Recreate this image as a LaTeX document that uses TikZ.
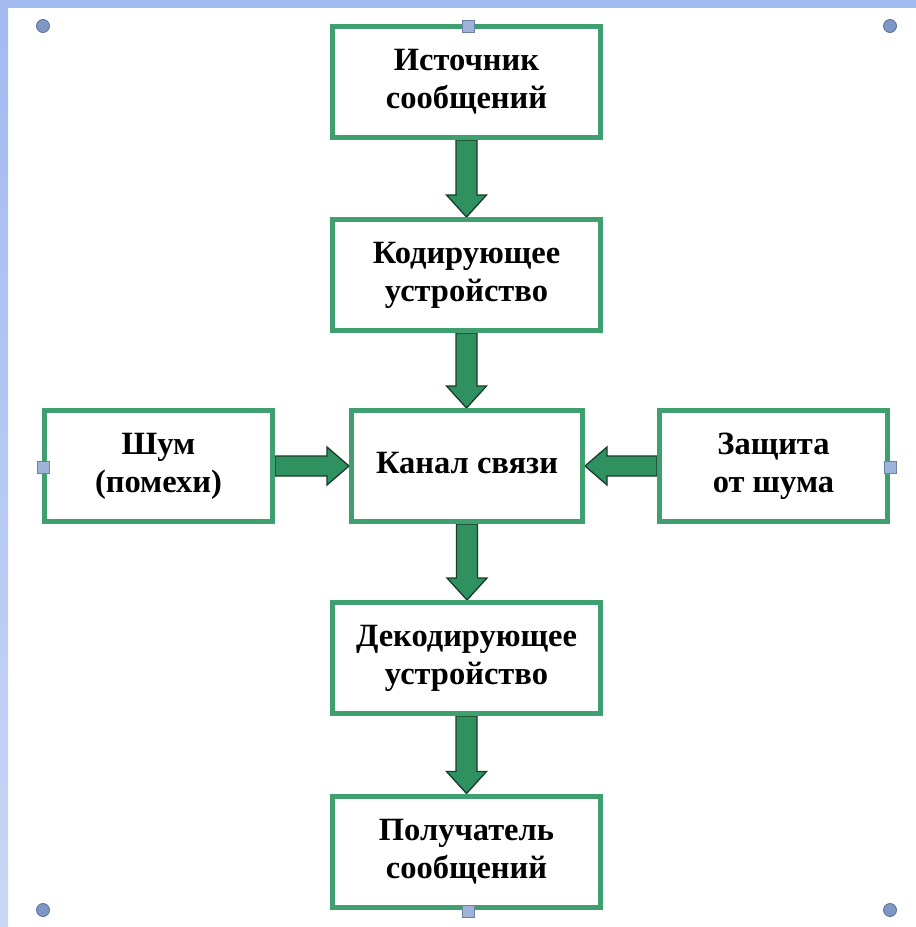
\documentclass[tikz,border=0pt]{standalone}
\usepackage{fontspec}
\setmainfont{Liberation Serif}
\usetikzlibrary{calc}
\definecolor{boxgreen}{HTML}{3F9F6F}
\definecolor{arrgreen}{HTML}{2F9160}
\definecolor{arrdark}{HTML}{1B3B2A}
\definecolor{frameblue}{HTML}{A2BAF0}
\definecolor{framelight}{HTML}{C9D7F5}
\definecolor{hcirc}{HTML}{7E97C4}
\definecolor{hcircd}{HTML}{5A6E96}
\definecolor{hsq}{HTML}{9DB4D8}
\definecolor{hsqd}{HTML}{6A82A8}
\newcommand\boxtxt[1]{\raisebox{8pt}{\begin{tabular}{@{}c@{}}#1\end{tabular}}}
\newcommand\BlkDown[2]{%
  \draw[blk] let \p1=(#1.south), \p2=(#2.north) in
    (\x1-10.5pt,\y1) -- (\x1+10.5pt,\y1) -- (\x1+10.5pt,\y2+22pt) -- (\x1+20pt,\y2+22pt)
    -- (\x1,\y2) -- (\x1-20pt,\y2+22pt) -- (\x1-10.5pt,\y2+22pt) -- cycle;}
\newcommand\BlkRight[2]{%
  \draw[blk] let \p1=(#1.east), \p2=(#2.west) in
    (\x1,\y1+10pt) -- (\x2-22pt,\y1+10pt) -- (\x2-22pt,\y1+19pt) -- (\x2,\y1)
    -- (\x2-22pt,\y1-19pt) -- (\x2-22pt,\y1-10pt) -- (\x1,\y1-10pt) -- cycle;}
\newcommand\BlkLeft[2]{%
  \draw[blk] let \p1=(#1.west), \p2=(#2.east) in
    (\x1,\y1+10pt) -- (\x2+22pt,\y1+10pt) -- (\x2+22pt,\y1+19pt) -- (\x2,\y1)
    -- (\x2+22pt,\y1-19pt) -- (\x2+22pt,\y1-10pt) -- (\x1,\y1-10pt) -- cycle;}
\tikzset{
  box/.style={draw=boxgreen, line width=5pt, fill=white, inner sep=0pt,
    font=\fontsize{32.5}{38}\selectfont\bfseries},
  mainbox/.style={box, minimum width=268pt, minimum height=111pt},
  midbox/.style={box, minimum width=231pt, minimum height=111pt},
  sidebox/.style={box, minimum width=228pt, minimum height=111pt},
  blk/.style={fill=arrgreen, draw=arrdark, line width=1.3pt, line join=miter},
  hcircle/.style={fill=hcirc, draw=hcircd, line width=0.8pt},
  hsquare/.style={fill=hsq, draw=hsqd, line width=0.8pt}
}
\begin{document}
\begin{tikzpicture}[x=1pt,y=-1pt]
\useasboundingbox (0,0) rectangle (916,927);
\fill[white] (0,0) rectangle (916,927);
\shade[top color=frameblue, bottom color=framelight] (0,0) rectangle (8,927);
\fill[frameblue] (0,0) rectangle (916,8);

% node positions (outlines drawn later, over the arrows)
\path
  (466.5,82)  node[mainbox, draw=none, fill=none] (src) {}
  (466.5,275) node[mainbox, draw=none, fill=none] (enc) {}
  (467,466)   node[midbox, draw=none, fill=none] (chan) {}
  (158.5,466) node[sidebox, draw=none, fill=none] (noise) {}
  (773.5,466) node[sidebox, draw=none, fill=none] (prot) {}
  (466.5,658) node[mainbox, draw=none, fill=none] (dec) {}
  (466.5,851.5) node[mainbox, draw=none, fill=none] (dst) {};

\BlkDown{src}{enc}
\BlkDown{enc}{chan}
\BlkDown{chan}{dec}
\BlkDown{dec}{dst}
\BlkRight{noise}{chan}
\BlkLeft{prot}{chan}

\node[mainbox] at (src)   {\boxtxt{Источник\\сообщений}};
\node[mainbox] at (enc)   {\boxtxt{Кодирующее\\устройство}};
\node[midbox]  at (chan)  {\boxtxt{Канал связи}};
\node[sidebox] at (noise) {\boxtxt{Шум\\(помехи)}};
\node[sidebox] at (prot)  {\boxtxt{Защита\\от шума}};
\node[mainbox] at (dec)   {\boxtxt{Декодирующее\\устройство}};
\node[mainbox] at (dst)   {\boxtxt{Получатель\\сообщений}};

% selection handles
\foreach \p in {(43,26),(890,26),(43,910),(890,910)}
  \filldraw[hcircle] \p circle (6.5);
\foreach \p in {(468,26),(43,467),(890,467),(468,911)}
  \filldraw[hsquare] \p ++(-6,-6) rectangle ++(12,12);
\end{tikzpicture}
\end{document}
